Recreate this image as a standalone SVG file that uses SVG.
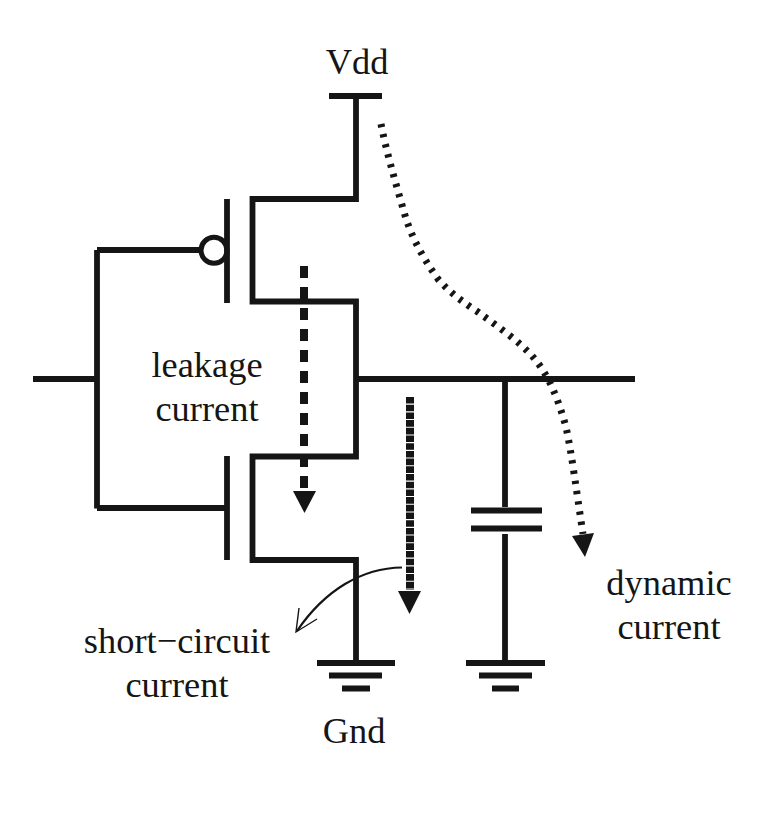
<svg xmlns="http://www.w3.org/2000/svg" width="775" height="836" viewBox="0 0 775 836">
<style>
.w{fill:none;stroke:#151515;stroke-width:5.8;stroke-linecap:butt;stroke-linejoin:miter}
.h{fill:#151515;stroke:none}
text{font-family:"Liberation Serif","Times New Roman",serif;font-size:36.4px;fill:#151515;text-anchor:middle}
</style>
<rect width="775" height="836" fill="#fff"/>
<g id="connectors">
<path class="w" d="M356 96V199H252.500V301.500H356V456.500H252.500V560H356V662"/>
<path class="w" d="M33 379H97M97 250V508.500M97 250H201M97 508H227M356 379H635M505 379V507M505 534V663"/>
<path fill="none" stroke="#151515" stroke-width="8" stroke-dasharray="12 9" d="M304 266V490"/>
<path class="h" d="M293 491H316L304.500 513Z"/>
<path fill="none" stroke="#151515" stroke-width="8" stroke-dasharray="6.600 1.100" d="M410 397V590"/>
<path class="h" d="M398 591H421L409.500 614Z"/>
<path fill="none" stroke="#151515" stroke-width="7" stroke-dasharray="3.400 6.900" d="M381 124C386 150 394 177 402 205C409 232 420 254 438 279C450 293 463 302 478 312C497 326 520 342 533 357C548 374 558 398 566 427C572 455 577 495 583 534"/>
<path class="h" d="M572 536L594 533L585 557Z"/>
<path fill="none" stroke="#151515" stroke-width="2.200" d="M402 567.500C362 568 325 590 297 631"/>
<path fill="none" stroke="#151515" stroke-width="1.400" d="M299 608L296 632L317 619"/>
</g>
<g id="vdd"><path class="w" d="M329 96H382"/><text x="357" y="74">Vdd</text></g>
<g id="pmos"><path class="w" d="M227 199V303"/><circle cx="214" cy="250.300" r="13" fill="none" stroke="#151515" stroke-width="5"/></g>
<g id="nmos"><path class="w" d="M227 456V560"/></g>
<g id="capacitor"><path class="w" d="M471 510.500H542M471 528.500H542"/></g>
<g id="gnd-left"><path class="w" d="M317 663H395M329 675.500H382M342 688.500H370"/><text x="354" y="743">Gnd</text></g>
<g id="gnd-right"><path class="w" d="M466 663H545M479 675.500H532M492 688.500H519"/></g>
<g id="label-leakage"><text x="207" y="377">leakage</text><text x="207" y="421">current</text></g>
<g id="label-short"><text x="177" y="653">short−circuit</text><text x="177" y="697">current</text></g>
<g id="label-dynamic"><text x="669" y="595">dynamic</text><text x="669" y="639">current</text></g>
</svg>
